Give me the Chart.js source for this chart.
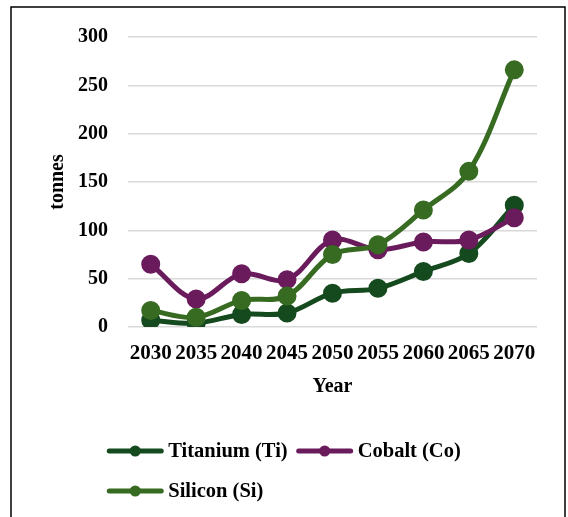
<!DOCTYPE html>
<html lang="en">
<head>
    <meta charset="UTF-8">
    <title>Metal demand 2030-2070</title>
    <script src="https://cdn.jsdelivr.net/npm/chart.js"></script>
    <style>
        * { margin: 0; padding: 0; box-sizing: border-box; }
        body { background: #fff; }
        .chart-box { width: 568px; height: 517px; }
    </style>
</head>
<body>
    <div class="chart-box">
        <canvas id="metalChart"></canvas>
    </div>

    <script>
        // Projected demand per year (tonnes)
        const years = ['2030', '2035', '2040', '2045', '2050', '2055', '2060', '2065', '2070'];
        const titanium = [7, 4, 13, 14.5, 35, 40, 57.5, 76, 126];
        const cobalt = [65, 29, 55, 49, 90, 80, 88, 90, 113];
        const silicon = [17, 10, 27.5, 32, 75, 85, 121, 161, 266];
        const yMax = 300;
        const yStep = 50;

        const FONT = "'Liberation Serif', 'Times New Roman', serif";

        // white page with a black frame around the chart
        const framePlugin = {
            id: 'frame',
            beforeDraw(chart) {
                const ctx = chart.ctx;
                ctx.save();
                ctx.fillStyle = '#fff';
                ctx.fillRect(0, 0, chart.width, chart.height);
                ctx.strokeStyle = '#000';
                ctx.lineWidth = 1.5;
                ctx.strokeRect(11, 7, 554, 560);
                ctx.restore();
            }
        };

        // legend drawn as line + marker samples, second row starts under the first
        const legendPlugin = {
            id: 'lineLegend',
            afterDraw(chart) {
                const ctx = chart.ctx;
                const sets = chart.data.datasets;
                const sampleW = 56, gap = 5, itemGap = 9;
                ctx.save();
                ctx.font = "bold 20.5px " + FONT;
                ctx.textBaseline = 'middle';
                const widths = sets.map(ds => sampleW + gap + ctx.measureText(ds.label).width);
                const rows = [[0, 1], [2]];
                const row1W = widths[0] + itemGap + widths[1];
                const startX = (chart.width - row1W) / 2;
                const rowY = [451, 491];
                rows.forEach((row, r) => {
                    let x = startX;
                    row.forEach(i => {
                        const ds = sets[i];
                        const y = rowY[r];
                        ctx.strokeStyle = ds.borderColor;
                        ctx.lineWidth = 5;
                        ctx.lineCap = 'round';
                        ctx.beginPath();
                        ctx.moveTo(x + 2, y);
                        ctx.lineTo(x + sampleW - 2, y);
                        ctx.stroke();
                        ctx.fillStyle = ds.borderColor;
                        ctx.beginPath();
                        ctx.arc(x + sampleW / 2, y, 5.5, 0, Math.PI * 2);
                        ctx.fill();
                        ctx.fillStyle = '#000';
                        ctx.fillText(ds.label, x + sampleW + gap, y + 1);
                        x += widths[i] + itemGap;
                    });
                });
                ctx.restore();
            }
        };

        function series(label, data, color, order) {
            return {
                label: label,
                data: data,
                borderColor: color,
                backgroundColor: color,
                borderWidth: 5,
                pointRadius: 7,
                pointHoverRadius: 7,
                tension: 0.35,
                order: order
            };
        }

        const ctx = document.getElementById('metalChart').getContext('2d');
        new Chart(ctx, {
            type: 'line',
            data: {
                labels: years,
                datasets: [
                    series('Titanium (Ti)', titanium, '#154a1f', 2),
                    series('Cobalt (Co)', cobalt, '#6a1b5c', 1),
                    series('Silicon (Si)', silicon, '#376b22', 0)
                ]
            },
            options: {
                responsive: true,
                maintainAspectRatio: false,
                animation: false,
                layout: {
                    padding: { left: 28, right: 31, top: 37, bottom: 118 }
                },
                plugins: {
                    legend: { display: false },
                    tooltip: { enabled: false }
                },
                scales: {
                    x: {
                        offset: true,
                        grid: { display: false, drawTicks: false },
                        border: { display: false },
                        ticks: {
                            color: '#000',
                            padding: 14,
                            maxRotation: 0,
                            autoSkip: false,
                            font: { family: FONT, size: 21, weight: 'bold' }
                        },
                        title: {
                            display: true,
                            text: 'Year',
                            color: '#000',
                            padding: { top: 0, bottom: 0 },
                            font: { family: FONT, size: 20, weight: 'bold' }
                        },
                        afterFit: s => { s.height = 72; }
                    },
                    y: {
                        min: 0,
                        max: yMax,
                        grid: { color: '#d9d9d9', lineWidth: 1.5, drawTicks: false },
                        border: { display: false },
                        ticks: {
                            stepSize: yStep,
                            color: '#000',
                            padding: 20,
                            font: { family: FONT, size: 20, weight: 'bold' }
                        },
                        title: {
                            display: true,
                            text: 'tonnes',
                            color: '#000',
                            padding: { top: 18, bottom: 0 },
                            font: { family: FONT, size: 20, weight: 'bold' }
                        },
                        afterFit: s => { s.width = 100; }
                    }
                }
            },
            plugins: [framePlugin, legendPlugin]
        });
    </script>
</body>
</html>
